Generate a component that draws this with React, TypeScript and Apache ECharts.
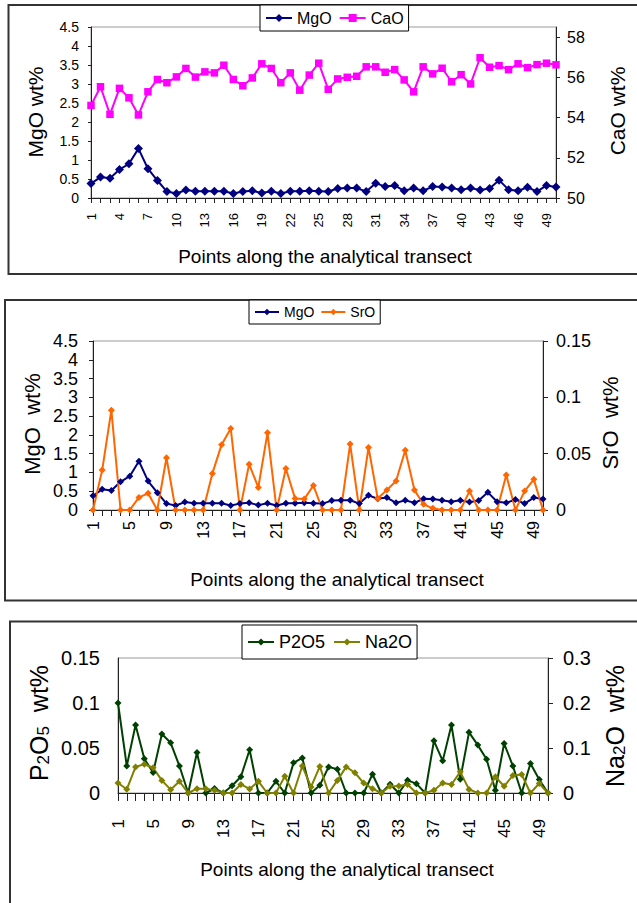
import React, { useEffect, useRef } from "react";
import * as echarts from "echarts";

const categories = [
  "1","2","3","4","5","6","7","8","9","10",
  "11","12","13","14","15","16","17","18","19","20",
  "21","22","23","24","25","26","27","28","29","30",
  "31","32","33","34","35","36","37","38","39","40",
  "41","42","43","44","45","46","47","48","49","50",
];

const mgo = [
  0.38, 0.55, 0.52, 0.75, 0.9, 1.3, 0.77, 0.46, 0.17, 0.12,
  0.21, 0.18, 0.18, 0.18, 0.18, 0.12, 0.17, 0.19, 0.13, 0.18,
  0.12, 0.18, 0.18, 0.19, 0.18, 0.17, 0.25, 0.26, 0.26, 0.17,
  0.39, 0.3, 0.33, 0.19, 0.26, 0.19, 0.3, 0.29, 0.26, 0.22,
  0.26, 0.21, 0.25, 0.47, 0.22, 0.19, 0.28, 0.17, 0.33, 0.29,
];

const cao = [
  54.6, 55.53, 54.16, 55.45, 54.98, 54.13, 55.28, 55.89, 55.73, 56.02,
  56.44, 56.01, 56.27, 56.22, 56.6, 55.89, 55.58, 55.97, 56.67, 56.44,
  55.73, 56.22, 55.36, 56.11, 56.7, 55.4, 55.92, 56.0, 56.05, 56.52,
  56.52, 56.25, 56.38, 55.87, 55.28, 56.52, 56.17, 56.45, 55.78, 56.13,
  55.67, 56.97, 56.5, 56.58, 56.38, 56.67, 56.48, 56.63, 56.7, 56.62,
];

const sro = [
  0, 0.0354, 0.0886, 0, 0, 0.0112, 0.0148, 0, 0.0464, 0,
  0, 0, 0, 0.0325, 0.058, 0.0723, 0, 0.0407, 0.02, 0.0685,
  0, 0.0369, 0.0103, 0.0097, 0.0217, 0, 0, 0, 0.0585, 0,
  0.0555, 0.0103, 0.0177, 0.0257, 0.0531, 0.0177, 0.005, 0.0015, 0, 0,
  0, 0.0168, 0, 0, 0, 0.031, 0, 0.0168, 0.0272, 0,
];

const p2o5 = [
  0.1, 0.03, 0.0755, 0.038, 0.0227, 0.0655, 0.0558, 0.03, 0, 0.045,
  0, 0.005, 0, 0.008, 0.018, 0.048, 0, 0, 0.013, 0,
  0.0335, 0.039, 0, 0.0086, 0.029, 0.0264, 0, 0, 0, 0.0208,
  0, 0.0097, 0, 0.0141, 0.0104, 0, 0.058, 0.0357, 0.0755, 0.0153,
  0.0674, 0.0532, 0.0376, 0.003, 0.055, 0.03, 0, 0.0327, 0.0149, 0,
];

const na2o = [
  0.0223, 0.0082, 0.058, 0.064, 0.056, 0.028, 0.0074, 0.026, 0, 0.0097,
  0.0097, 0.006, 0, 0, 0.019, 0.009, 0.026, 0, 0, 0.037,
  0, 0.06, 0.0134, 0.059, 0, 0.028, 0.058, 0.045, 0.022, 0.0097,
  0, 0.015, 0.0156, 0.019, 0, 0, 0.006, 0.022, 0.019, 0.047,
  0.008, 0, 0, 0.036, 0.015, 0.039, 0.041, 0, 0.021, 0,
];

const caoTicks = [50, 52, 54, 56, 58];

const FONT = "'Liberation Sans', Arial, sans-serif";
const AXIS = "#222";

function xAxisDef(grid: number, interval: number, tickLen: number, margin: number, fontSize: number) {
  return {
    type: "category",
    gridIndex: grid,
    data: categories,
    boundaryGap: false,
    axisLine: { lineStyle: { color: AXIS, width: 1 } },
    axisTick: { interval: 0, length: tickLen, lineStyle: { color: AXIS } },
    axisLabel: { interval, rotate: 90, margin, fontSize, color: "#000", fontFamily: FONT },
    splitLine: { show: false },
  };
}

function yAxisDef(grid: number, pos: "left" | "right", min: number, max: number, interval: number, fontSize: number, margin: number, tickLen: number, extra: any = {}) {
  return {
    type: "value",
    gridIndex: grid,
    position: pos,
    min,
    max,
    interval,
    axisLine: { show: true, lineStyle: { color: AXIS, width: 1 } },
    axisTick: { show: tickLen > 0, length: tickLen, lineStyle: { color: AXIS }, ...(extra.axisTick || {}) },
    axisLabel: { fontSize, margin, color: "#000", fontFamily: FONT, ...(extra.axisLabel || {}) },
    splitLine: { show: false },
  };
}

function lineSeries(name: string, data: number[], xi: number, yi: number, color: string, symbol: string, size: number, width: number) {
  return {
    name,
    type: "line",
    data,
    xAxisIndex: xi,
    yAxisIndex: yi,
    symbol,
    symbolSize: size,
    showSymbol: true,
    showAllSymbol: true,
    lineStyle: { color, width },
    itemStyle: { color },
    emphasis: { disabled: true },
  };
}

function vText(x: number, y: number, text: string, fontSize: number, rich?: any) {
  return {
    type: "text",
    x,
    y,
    rotation: Math.PI / 2,
    style: {
      text,
      fontSize,
      fontFamily: FONT,
      fill: "#000",
      align: "center",
      verticalAlign: "middle",
      textAlign: "center",
      textVerticalAlign: "middle",
      ...(rich ? { rich } : {}),
    },
  };
}

function hText(x: number, y: number, text: string, fontSize: number) {
  return {
    type: "text",
    x,
    y,
    style: {
      text,
      fontSize,
      fontFamily: FONT,
      fill: "#000",
      align: "center",
      verticalAlign: "middle",
      textAlign: "center",
      textVerticalAlign: "middle",
    },
  };
}

function panelRect(x: number, y: number, w: number, h: number) {
  return {
    type: "rect",
    shape: { x, y, width: w, height: h },
    style: { fill: "none", stroke: "#333", lineWidth: 2 },
    z: 0,
  };
}

export default function App() {
  const ref = useRef<HTMLDivElement>(null);

  useEffect(() => {
    if (!ref.current) return;
    const chart = echarts.init(ref.current, undefined, { renderer: "svg" });
    const subRich = {
      n: { fontSize: 25, fontFamily: FONT, verticalAlign: "bottom" },
      s: { fontSize: 17, fontFamily: FONT, verticalAlign: "bottom", padding: [0, 0, 0, 0] },
    };
    const option: any = {
      animation: false,
      backgroundColor: "#fff",
      textStyle: { fontFamily: FONT },
      grid: [
        { left: 91, top: 27, width: 465, height: 171, show: true, borderColor: "#999", borderWidth: 1, containLabel: false },
        { left: 93, top: 341, width: 450, height: 169, show: true, borderColor: "#999", borderWidth: 1, containLabel: false },
        { left: 118, top: 658, width: 430, height: 135, show: true, borderColor: "#999", borderWidth: 1, containLabel: false },
      ],
      legend: [
        {
          data: ["MgO", "CaO"],
          left: 260,
          top: 5,
          padding: [5, 5],
          itemGap: 7,
          itemWidth: 26,
          itemHeight: 10,
          borderColor: "#000",
          borderWidth: 1,
          backgroundColor: "#fff",
          textStyle: { fontSize: 16, color: "#000", fontFamily: FONT },
        },
        {
          data: ["MgO", "SrO"],
          left: 249,
          top: 300,
          padding: [5, 5],
          itemGap: 6,
          itemWidth: 24,
          itemHeight: 8,
          borderColor: "#000",
          borderWidth: 1,
          backgroundColor: "#fff",
          textStyle: { fontSize: 14, color: "#000", fontFamily: FONT },
        },
        {
          data: ["P2O5", "Na2O"],
          left: 242,
          top: 625,
          padding: [8, 5],
          itemGap: 8,
          itemWidth: 26,
          itemHeight: 9,
          borderColor: "#000",
          borderWidth: 1,
          backgroundColor: "#fff",
          textStyle: { fontSize: 18, color: "#000", fontFamily: FONT },
        },
      ],
      xAxis: [
        xAxisDef(0, 2, 5, 15, 13),
        xAxisDef(1, 3, 6, 11, 16),
        xAxisDef(2, 3, 8, 26, 17),
      ],
      yAxis: [
        yAxisDef(0, "left", 0, 4.5, 0.5, 14, 12, 3),
        yAxisDef(0, "right", 50, 58.5, 2, 16, 11, 4, {
          axisLabel: { customValues: caoTicks, formatter: (v: number) => (v > 58 ? "" : String(v)) },
          axisTick: { customValues: caoTicks },
        }),
        yAxisDef(1, "left", 0, 4.5, 0.5, 18, 15, 4),
        yAxisDef(1, "right", 0, 0.15, 0.05, 18, 13, 5),
        yAxisDef(2, "left", 0, 0.15, 0.05, 20, 18, 0),
        yAxisDef(2, "right", 0, 0.3, 0.1, 20, 15, 5),
      ],
      series: [
        lineSeries("MgO", mgo, 0, 0, "#000080", "diamond", 9, 2),
        lineSeries("CaO", cao, 0, 1, "#FF00FF", "rect", 7.5, 2),
        lineSeries("MgO", mgo, 1, 2, "#000080", "diamond", 7, 2),
        lineSeries("SrO", sro, 1, 3, "#FF6600", "diamond", 7, 2),
        lineSeries("P2O5", p2o5, 2, 4, "#004000", "diamond", 7, 2),
        lineSeries("Na2O", na2o, 2, 5, "#808000", "diamond", 7, 2),
      ],
      graphic: [
        panelRect(8.5, 5, 640, 269),
        panelRect(5, 300, 640, 300.5),
        panelRect(10, 621.5, 640, 300),
        vText(35, 112, "MgO wt%", 21),
        vText(617, 111, "CaO wt%", 21),
        hText(325, 256, "Points along the analytical transect", 19),
        vText(32, 424, "MgO  wt%", 22),
        vText(610, 423, "SrO  wt%", 22),
        hText(337, 579, "Points along the analytical transect", 19),
        vText(39, 723, "{n|P}{s|2}{n|O}{s|5}{n|  wt%}", 25, subRich),
        vText(615, 726, "{n|Na}{s|2}{n|O  wt%}", 25, subRich),
        hText(347, 869, "Points along the analytical transect", 19),
      ],
    };
    chart.setOption(option);
    return () => chart.dispose();
  }, []);

  return (
    <div
      ref={ref}
      style={{ position: "absolute", left: 0, top: 0, width: 637, height: 903, background: "#fff" }}
    />
  );
}
